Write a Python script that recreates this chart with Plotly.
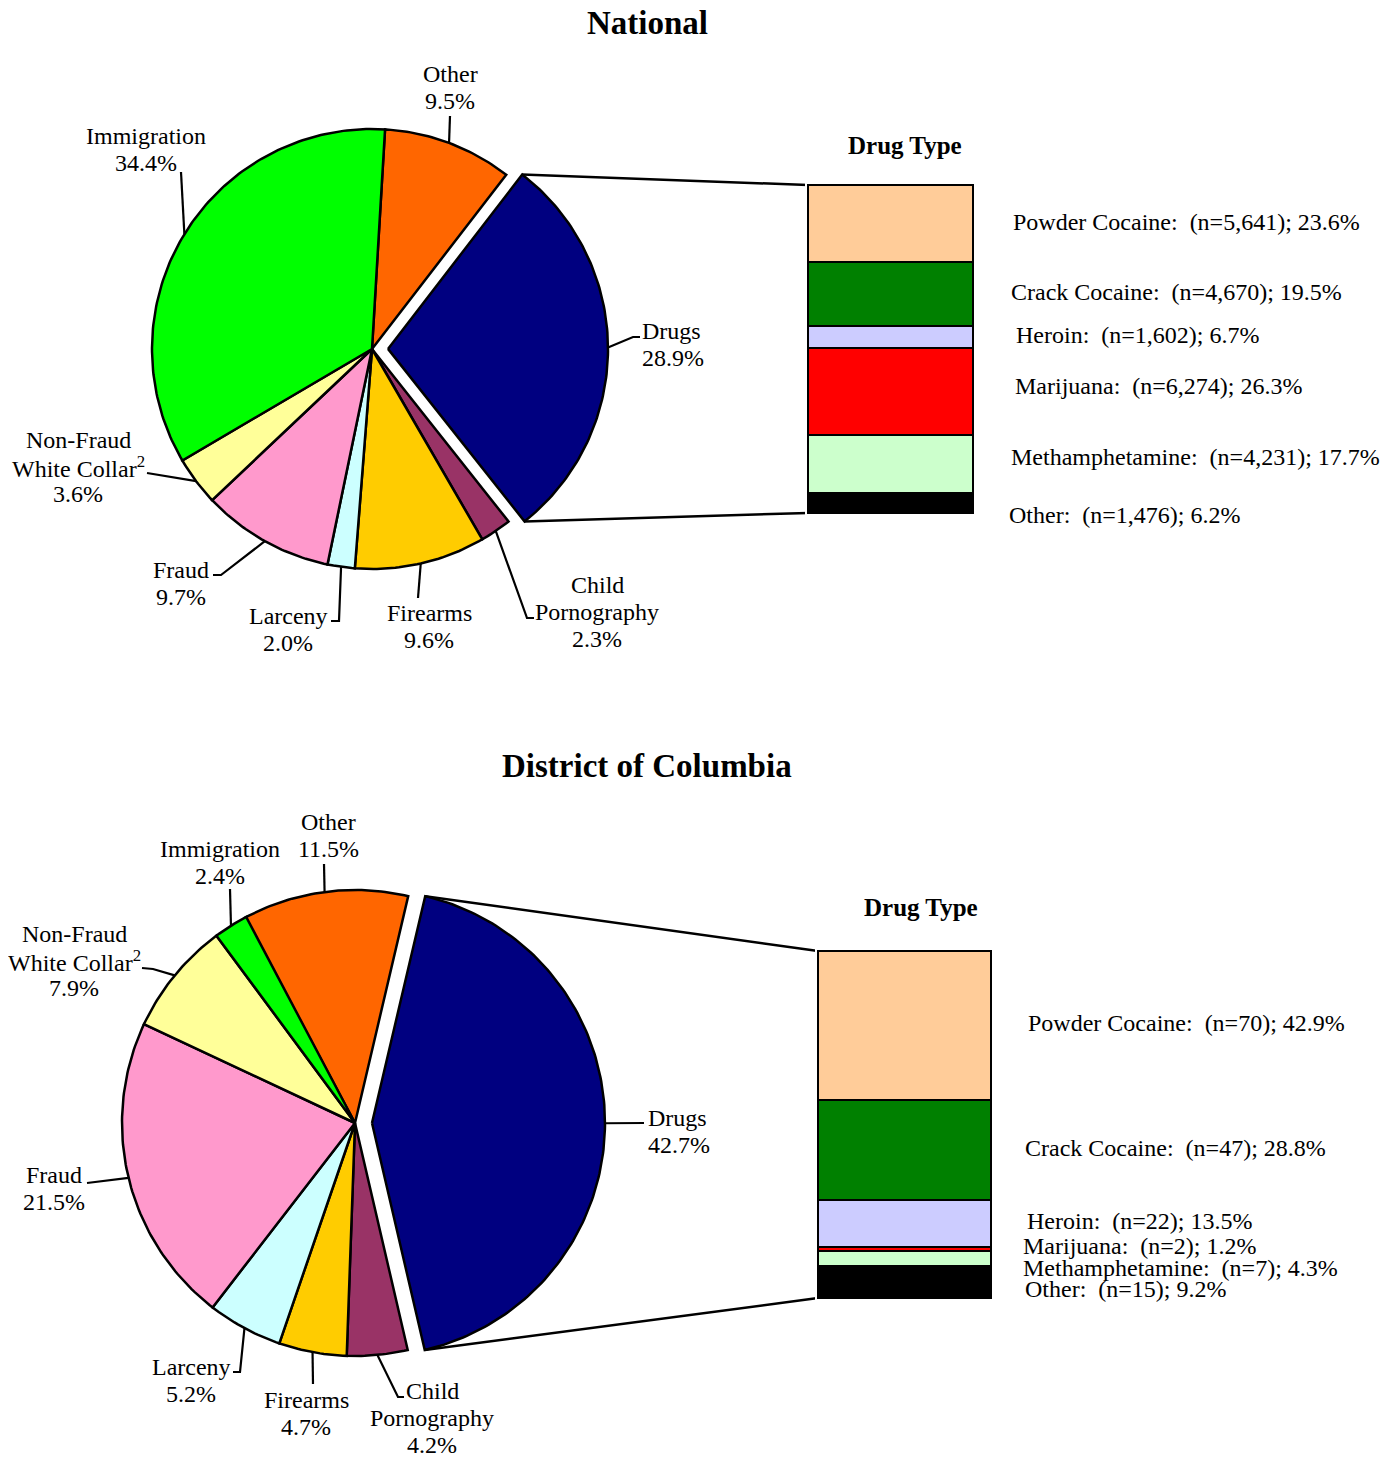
import math
import plotly.graph_objects as go

W, H = 1389, 1459
OFF = 8  # default page body margin
FONT = "Liberation Serif, Times New Roman, serif"
LABEL_SIZE = 24
LINE_GAP = 27

# ---------------- data ----------------
offense_types = ["Other", "Drugs", "Child Pornography", "Firearms", "Larceny",
                 "Fraud", "Non-Fraud White Collar", "Immigration"]
offense_labels = ["Other", "Drugs", "Child<br>Pornography", "Firearms", "Larceny",
                  "Fraud", "Non-Fraud<br>White Collar<sup>2</sup>", "Immigration"]
national_pct = [9.5, 28.9, 2.3, 9.6, 2.0, 9.7, 3.6, 34.4]
dc_pct = [11.5, 42.7, 4.2, 4.7, 5.2, 21.5, 7.9, 2.4]
offense_colors = ["#FF6600", "#000080", "#993366", "#FFCC00", "#CCFFFF",
                  "#FF99CC", "#FFFF99", "#00FF00"]

drug_types = ["Powder Cocaine", "Crack Cocaine", "Heroin", "Marijuana",
              "Methamphetamine", "Other"]
national_drug_n = [5641, 4670, 1602, 6274, 4231, 1476]
national_drug_pct = [23.6, 19.5, 6.7, 26.3, 17.7, 6.2]
dc_drug_n = [70, 47, 22, 2, 7, 15]
dc_drug_pct = [42.9, 28.8, 13.5, 1.2, 4.3, 9.2]
drug_colors = ["#FFCC99", "#008000", "#CCCCFF", "#FF0000", "#CCFFCC", "#000000"]

# ---------------- layout geometry (page pixels) ----------------
panels = [
    dict(title="National", title_xy=(647, 23), pct=national_pct,
         cx=372, cy=349, r=220, start=3.4, pull=16,
         bar_box=(808, 185, 973, 513), drug_n=national_drug_n, drug_pct=national_drug_pct,
         dt_xy=(905, 145),
         drug_label_xy=[(1012, 222), (1010, 292), (1015, 335), (1014, 386), (1010, 457), (1008, 515)],
         labels={
             "Other": dict(xy=(450, 87), align="center", pts=[(450, 116)]),
             "Drugs": dict(xy=(641, 344), align="left", pts=[(633, 337), (640, 337)]),
             "Child Pornography": dict(xy=(597, 612), align="center", pts=[(527, 618), (534, 618)]),
             "Firearms": dict(xy=(429, 626), align="center", pts=[(418, 598)]),
             "Larceny": dict(xy=(288, 629), align="center", pts=[(339, 621), (331, 621)]),
             "Fraud": dict(xy=(181, 583), align="center", pts=[(221, 575), (213, 575)]),
             "Non-Fraud White Collar": dict(xy=(78, 467), align="center", pts=[(147, 473)]),
             "Immigration": dict(xy=(146, 149), align="center", pts=[(181, 172)]),
         }),
    dict(title="District of Columbia", title_xy=(647, 766), pct=dc_pct,
         cx=355, cy=1123, r=233, start=-28.2, pull=17,
         bar_box=(818, 951, 991, 1298), drug_n=dc_drug_n, drug_pct=dc_drug_pct,
         dt_xy=(921, 907),
         drug_label_xy=[(1027, 1023), (1024, 1148), (1026, 1221), (1022, 1246), (1022, 1268), (1024, 1289)],
         labels={
             "Other": dict(xy=(328, 835), align="center", pts=[(324, 864)]),
             "Drugs": dict(xy=(647, 1131), align="left", pts=[(644, 1123)]),
             "Child Pornography": dict(xy=(432, 1418), align="center", pts=[(398, 1397), (404, 1397)]),
             "Firearms": dict(xy=(306, 1413), align="center", pts=[(313, 1384)]),
             "Larceny": dict(xy=(191, 1380), align="center", pts=[(240, 1372), (233, 1372)]),
             "Fraud": dict(xy=(54, 1188), align="center", pts=[(87, 1183)]),
             "Non-Fraud White Collar": dict(xy=(74, 961), align="center", pts=[(153, 969), (142, 968)]),
             "Immigration": dict(xy=(220, 862), align="center", pts=[(230, 889)]),
         }),
]

fig = go.Figure()
annotations = []
layout_axes = {}


def polar(cx, cy, r, ang):
    a = math.radians(ang)
    return cx + r * math.sin(a), cy - r * math.cos(a)


def add_text(x, y, text, size=LABEL_SIZE, anchor="center", bold=False):
    annotations.append(dict(
        x=x, y=y, xref="x", yref="y", showarrow=False,
        text=f"<b>{text}</b>" if bold else text,
        xanchor=anchor, yanchor="middle", align=anchor if anchor != "center" else "center",
        borderpad=0,
        font=dict(family=FONT, size=size, color="black")))


for pi, p in enumerate(panels):
    cx, cy, r = p["cx"], p["cy"], p["r"]
    cum = p["start"]
    drug_edges = None
    for i, (name, v) in enumerate(zip(offense_types, p["pct"])):
        a0 = cum
        a1 = cum + v * 3.6
        cum = a1
        mid = (a0 + a1) / 2
        ox, oy = cx, cy
        if name == "Drugs":
            ox, oy = polar(cx, cy, p["pull"], mid)
        n = max(4, int((a1 - a0) / 1.0) + 2)
        xs, ys = [ox], [oy]
        for k in range(n + 1):
            x, y = polar(ox, oy, r, a0 + (a1 - a0) * k / n)
            xs.append(x)
            ys.append(y)
        xs.append(ox)
        ys.append(oy)
        fig.add_trace(go.Scatter(x=xs, y=ys, mode="lines", fill="toself",
                                 fillcolor=offense_colors[i],
                                 line=dict(color="black", width=2.5),
                                 hoverinfo="text", text=f"{name}: {v}%",
                                 showlegend=False))
        if name == "Drugs":
            drug_edges = (polar(ox, oy, r, a0), polar(ox, oy, r, a1))
        # leader line + label
        lab = p["labels"][name]
        sx, sy = polar(ox, oy, r, mid)
        lx = [sx] + [q[0] for q in lab["pts"]]
        ly = [sy] + [q[1] for q in lab["pts"]]
        fig.add_trace(go.Scatter(x=lx, y=ly, mode="lines",
                                 line=dict(color="black", width=2.2),
                                 hoverinfo="skip", showlegend=False))
        tx, ty = lab["xy"]
        lines = offense_labels[i].split("<br>") + [f"{v}%"]
        nl = len(lines)
        for k, t in enumerate(lines):
            add_text(tx, ty + (k - (nl - 1) / 2) * LINE_GAP, t,
                     anchor="left" if lab["align"] == "left" else "center")

    # stacked bar on its own axes
    x0, y0, x1, y1 = p["bar_box"]
    pad = 3
    total = sum(p["drug_pct"])
    xa = f"x{pi + 2}"
    ya = f"y{pi + 2}"
    per_x = 1.0 / (x1 - x0)
    per_y = total / (y1 - y0)
    layout_axes[f"xaxis{pi + 2}"] = dict(
        domain=[(x0 - pad - OFF) / W, (x1 + pad - OFF) / W],
        range=[-0.5 - pad * per_x, 0.5 + pad * per_x],
        visible=False, fixedrange=True, anchor=ya)
    layout_axes[f"yaxis{pi + 2}"] = dict(
        domain=[1 - (y1 + pad - OFF) / H, 1 - (y0 - pad - OFF) / H],
        range=[-pad * per_y, total + pad * per_y],
        visible=False, fixedrange=True, anchor=xa)
    for j in reversed(range(len(drug_types))):
        fig.add_trace(go.Bar(x=[0], y=[p["drug_pct"][j]], width=1,
                             marker=dict(color=drug_colors[j],
                                         line=dict(color="black", width=2.5)),
                             xaxis=xa, yaxis=ya, showlegend=False,
                             hovertext=f"{drug_types[j]}: {p['drug_pct'][j]}%",
                             hoverinfo="text"))

    # connecting lines from drug slice to bar
    (ex0, ey0), (ex1, ey1) = drug_edges
    fig.add_trace(go.Scatter(x=[ex0, x0], y=[ey0, y0], mode="lines",
                             line=dict(color="black", width=2.5),
                             hoverinfo="skip", showlegend=False))
    fig.add_trace(go.Scatter(x=[ex1, x0], y=[ey1, y1], mode="lines",
                             line=dict(color="black", width=2.5),
                             hoverinfo="skip", showlegend=False))

    # drug labels
    for j, (dname, n, v) in enumerate(zip(drug_types, p["drug_n"], p["drug_pct"])):
        lx, ly = p["drug_label_xy"][j]
        add_text(lx, ly, f"{dname}:\u00a0 (n={n:,}); {v}%", anchor="left")

    # titles
    add_text(p["title_xy"][0], p["title_xy"][1], p["title"], size=33, bold=True)
    add_text(p["dt_xy"][0], p["dt_xy"][1], "Drug Type", size=25, bold=True)

fig.update_layout(
    width=W, height=H,
    margin=dict(l=0, r=0, t=0, b=0),
    paper_bgcolor="white", plot_bgcolor="white",
    barmode="stack", bargap=0,
    xaxis=dict(range=[OFF, W + OFF], domain=[0, 1], visible=False, fixedrange=True),
    yaxis=dict(range=[H + OFF, OFF], domain=[0, 1], visible=False, fixedrange=True),
    annotations=annotations,
    **layout_axes,
)

fig.write_html("out.html")
